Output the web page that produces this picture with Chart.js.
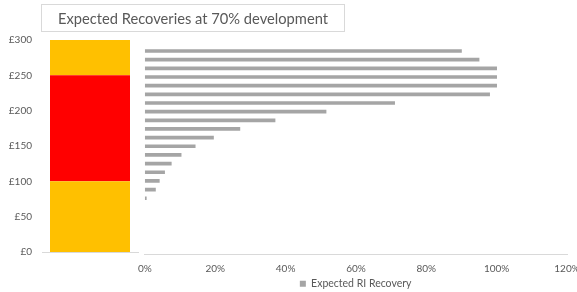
<!DOCTYPE html>
<html>
<head>
<meta charset="utf-8">
<script src="https://cdn.jsdelivr.net/npm/chart.js@4"></script>
<style>
  html, body { margin: 0; padding: 0; background: #fff; overflow: hidden; }
  body { width: 577px; height: 292px; position: relative; font-family: Lato, sans-serif; }
  #title {
    position: absolute; left: 41px; top: 4px; width: 302px; height: 26px;
    border: 1px solid #d9d9d9; color: #595959; font-size: 14.7px;
    line-height: 26px; text-align: center; white-space: nowrap;
  }
  #bandWrap { position: absolute; left: 0; top: 0; width: 145px; height: 292px; }
  #recWrap  { position: absolute; left: 130px; top: 0; width: 470px; height: 299px; }
</style>
</head>
<body>
<div id="bandWrap"><canvas id="bandChart"></canvas></div>
<div id="recWrap"><canvas id="recChart"></canvas></div>
<div id="title">Expected Recoveries at 70% development</div>

<script>
// ── data ──────────────────────────────────────
// left column: loss bands in £ (stacked bottom → top)
const BAND_NAMES  = ['Lower', 'Layer', 'Upper'];
const BAND_VALUES = [100, 150, 50];
const BAND_COLORS = ['#FFC000', '#FF0000', '#FFC000'];
const Y_TICKS     = [0, 50, 100, 150, 200, 250, 300];

// right side: expected RI recovery per loss level (top → bottom)
const LEVELS = ['L1','L2','L3','L4','L5','L6','L7','L8','L9','L10','L11','L12',
                'L13','L14','L15','L16','L17','L18','L19','L20','L21','L22','L23','L24'];
const RECOVERY = [90, 95, 100, 100, 100, 98, 71, 51.5, 37, 27, 19.5, 14.3,
                  10.3, 7.5, 5.6, 4.1, 3, 0.4, null, null, null, null, null, null];
const X_TICKS  = [0, 20, 40, 60, 80, 100, 120];

const TEXT  = '#595959';
const FONT  = { family: 'Lato, sans-serif', size: 10 };

// ── left: stacked band column ─────────────────
new Chart(document.getElementById('bandChart'), {
  type: 'bar',
  data: {
    labels: [''],
    datasets: BAND_NAMES.map((n, i) => ({
      label: n,
      data: [BAND_VALUES[i]],
      backgroundColor: BAND_COLORS[i],
      borderWidth: 0,
      barPercentage: 80 / 96,
      categoryPercentage: 1,
    }))
  },
  options: {
    responsive: true,
    maintainAspectRatio: false,
    animation: false,
    layout: { padding: { top: 40, bottom: 40, left: 0, right: 7 } },
    scales: {
      x: {
        stacked: true,
        grid: { display: false, drawTicks: false },
        border: { display: true, color: '#d9d9d9' },
        ticks: { display: false },
        afterFit: s => { s.height = 0; },
      },
      y: {
        stacked: true,
        min: 0, max: 300,
        afterBuildTicks: s => { s.ticks = Y_TICKS.map(v => ({ value: v })); },
        grid: { display: false, drawTicks: false },
        border: { display: false },
        ticks: { color: TEXT, font: FONT, padding: 10, callback: v => '£' + v },
        afterFit: s => { s.width = 42; },
      }
    },
    plugins: { legend: { display: false }, tooltip: { enabled: false } }
  }
});

// ── right: recovery bars ──────────────────────
new Chart(document.getElementById('recChart'), {
  type: 'bar',
  data: {
    labels: LEVELS,
    datasets: [{
      label: 'Expected RI Recovery',
      data: RECOVERY,
      backgroundColor: '#A5A5A5',
      borderWidth: 0,
      barThickness: 3,
    }]
  },
  options: {
    indexAxis: 'y',
    responsive: true,
    maintainAspectRatio: false,
    animation: false,
    layout: { padding: { top: 46.7, left: 14.3, right: 33, bottom: 0 } },
    scales: {
      x: {
        min: 0, max: 120,
        afterBuildTicks: s => { s.ticks = X_TICKS.map(v => ({ value: v })); },
        grid: { display: false, drawTicks: false },
        border: { display: true, color: '#d9d9d9' },
        ticks: { color: TEXT, font: FONT, padding: 8, callback: v => v + '%' },
        afterFit: s => { s.height = 20; },
      },
      y: { display: false }
    },
    plugins: {
      legend: {
        position: 'bottom',
        labels: {
          color: TEXT,
          font: { family: 'Lato, sans-serif', size: 10.5 },
          boxWidth: 6,
          boxHeight: 6,
          padding: 4,
        }
      },
      tooltip: { enabled: false }
    }
  }
});
</script>
</body>
</html>
